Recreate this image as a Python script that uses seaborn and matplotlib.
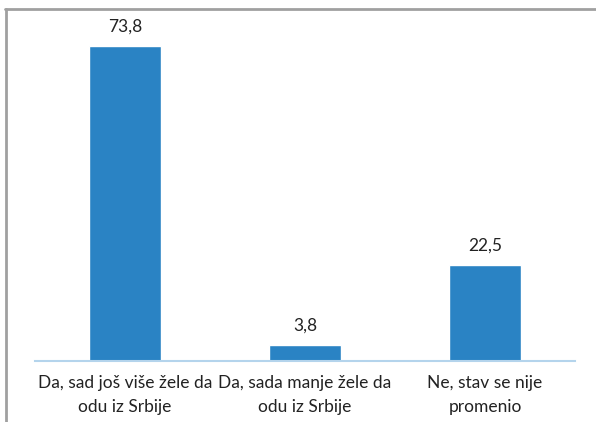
import matplotlib
matplotlib.use("Agg")
import matplotlib.pyplot as plt
from matplotlib.lines import Line2D
import seaborn as sns
import pandas as pd

categories = ["Da, sad još više žele da\nodu iz Srbije",
              "Da, sada manje žele da\nodu iz Srbije",
              "Ne, stav se nije\npromenio"]
values = [73.8, 3.8, 22.5]
value_labels = ["73,8", "3,8", "22,5"]

sns.set_theme(style="white")
plt.rcParams["font.family"] = ["Lato", "DejaVu Sans"]

df = pd.DataFrame({"cat": categories, "val": values})

W, H = 596, 422
fig = plt.figure(figsize=(W / 100, H / 100), dpi=100)
ax = fig.add_axes([35 / W, 1 - 361 / H, 540 / W, (361 - 19) / H])

sns.barplot(data=df, x="cat", y="val", color="#2a83c4", saturation=1,
            width=0.395, ax=ax)

ax.set_ylim(0, 80)
ax.set_xlim(-0.5, 2.5)
ax.set_xlabel("")
ax.set_ylabel("")
ax.set_yticks([])
for s in ["top", "right", "left"]:
    ax.spines[s].set_visible(False)
ax.spines["bottom"].set_color("#b4d4ec")
ax.spines["bottom"].set_linewidth(1.5)
ax.tick_params(axis="x", length=0, pad=10, labelsize=12.5, colors="#222222")
for t in ax.get_xticklabels():
    t.set_linespacing(1.6)

for i, (v, lab) in enumerate(zip(values, value_labels)):
    ax.annotate(lab, (i, v), xytext=(0, 8), textcoords="offset points",
                ha="center", va="bottom", fontsize=12.5, color="#222222")

# outer frame
fig.add_artist(Line2D([5 / W, 1], [1 - 9 / H, 1 - 9 / H], transform=fig.transFigure,
                      color="#a0a0a0", lw=2))
fig.add_artist(Line2D([6 / W, 6 / W], [1 - 9 / H, 0], transform=fig.transFigure,
                      color="#a0a0a0", lw=2))

fig.savefig("out.png", dpi=100)
